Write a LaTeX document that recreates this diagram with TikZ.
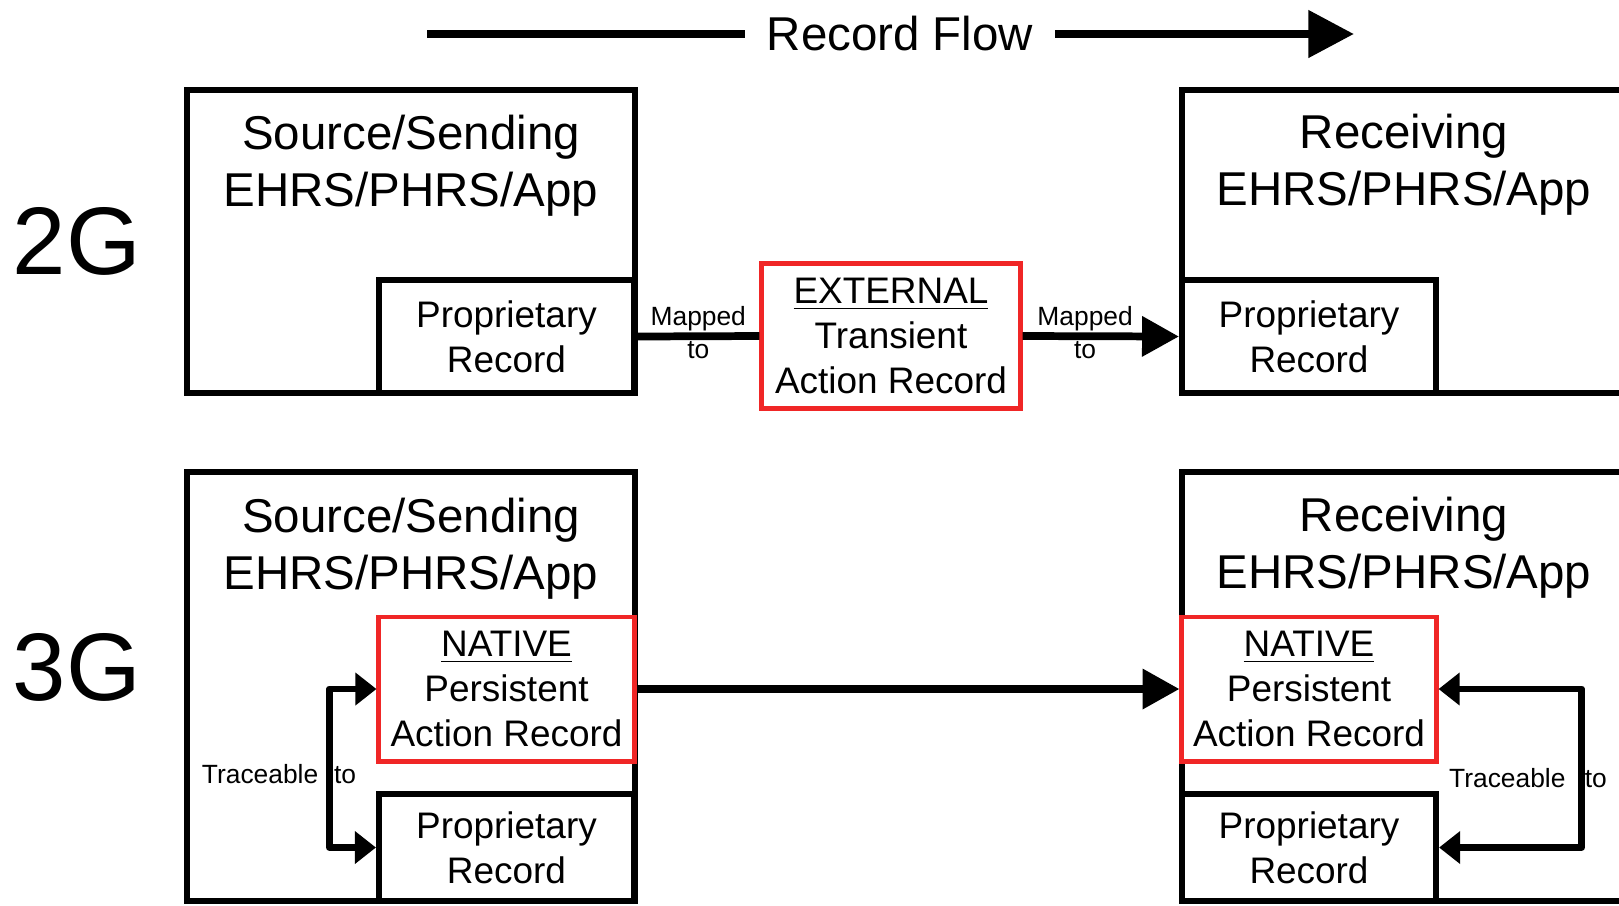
\documentclass[tikz,border=0pt]{standalone}
\usepackage{fontspec}
\setmainfont{Liberation Sans}
\usepackage{xcolor}
\usetikzlibrary{arrows.meta,shapes,positioning}

\definecolor{recred}{RGB}{240,38,38}

\tikzset{
    sysbox/.style={draw, line width=1.8pt, minimum width=4.48cm},
    recbox/.style={draw, fill=white, line width=1.7pt, align=center,
        font=\fontsize{10.5}{12.8}\selectfont, inner sep=0pt},
    actbox/.style={recbox, draw=recred, line width=1.4pt},
    titletext/.style={align=center, font=\fontsize{13.5}{16.2}\selectfont},
    smalltext/.style={align=center, font=\fontsize{7.5}{9.4}\selectfont, inner sep=0pt},
    gentext/.style={font=\fontsize{27.3}{30}\selectfont},
}

\begin{document}
\begin{tikzpicture}[x=0.01cm, y=-0.01cm]
        \clip (0,0) rectangle (1619,905);

        % record flow
        \node[titletext, inner xsep=6pt] (flow) at (900,34) {Record Flow};
        \coordinate (flowStart) at (427,34);
        \coordinate (flowEnd) at (1354,34);
        \draw[line width=2.5pt] (flowStart) -- (flow);
        \draw[-{Triangle[length=13pt,width=13pt]}, line width=2.5pt] (flow) -- (flowEnd);

        \node[gentext] (gen2) at (77,241) {2G};
        \node[gentext] (gen3) at (77,667) {3G};

        % 2G
        \node[sysbox, minimum height=3.03cm] (srcTop) at (411,241.5) {};
        \node[titletext] (srcTopTitle) at (411,166) {Source/Sending\\EHRS/PHRS/App};
        \node[recbox, minimum width=2.55cm, minimum height=1.13cm] (propSrcTop) at (506.5,336.5) {Proprietary\\Record};

        \node[actbox, minimum width=2.58cm, minimum height=1.45cm] (extRec) at (891,336) {\underline{EXTERNAL}\\Transient\\Action Record};

        \node[sysbox, minimum height=3.03cm] (rcvTop) at (1406,241.5) {};
        \node[titletext] (rcvTopTitle) at (1404,165) {Receiving\\EHRS/PHRS/App};
        \node[recbox, minimum width=2.54cm, minimum height=1.13cm] (propRcvTop) at (1309,336.5) {Proprietary\\Record};

        \draw[line width=2.2pt] (propSrcTop.east) -- (extRec.west) node[smalltext, midway, yshift=1pt] {Mapped\\to};
        \draw[-{Triangle[length=10.5pt,width=11pt]}, line width=2.2pt] (extRec.east) -- (propRcvTop.west) node[smalltext, pos=0.4, yshift=1pt] {Mapped\\to};

        % 3G
        \node[sysbox, minimum height=4.29cm] (srcBot) at (411,686.5) {};
        \node[titletext] (srcBotTitle) at (411,549) {Source/Sending\\EHRS/PHRS/App};
        \node[actbox, minimum width=2.55cm, minimum height=1.44cm] (nativeSrc) at (506.5,689) {\underline{NATIVE}\\Persistent\\Action Record};
        \node[recbox, minimum width=2.55cm, minimum height=1.07cm] (propSrcBot) at (506.5,847.5) {Proprietary\\Record};

        \node[sysbox, minimum height=4.29cm] (rcvBot) at (1406,686.5) {};
        \node[titletext] (rcvBotTitle) at (1404,548) {Receiving\\EHRS/PHRS/App};
        \node[actbox, minimum width=2.54cm, minimum height=1.44cm] (nativeRcv) at (1309,689) {\underline{NATIVE}\\Persistent\\Action Record};
        \node[recbox, minimum width=2.54cm, minimum height=1.07cm] (propRcvBot) at (1309,847.5) {Proprietary\\Record};

        \draw[-{Triangle[length=10.5pt,width=11pt]}, line width=2.2pt] (nativeSrc.east) -- (nativeRcv.west);

        \draw[{Triangle[length=6pt,width=9pt]}-{Triangle[length=6pt,width=9pt]}, line width=1.9pt, line join=round] (nativeSrc.west) -- ++(-47,0) |- (propSrcBot.west);
        \node[smalltext] (traceSrc) at (279,774) {Traceable\hspace{4.5pt}to};

        \draw[{Triangle[length=6pt,width=9pt]}-{Triangle[length=6pt,width=9pt]}, line width=1.9pt, line join=round] (nativeRcv.east) -- ++(143,0) |- (propRcvBot.east);
        \node[smalltext] (traceRcv) at (1528,778) {Traceable\hspace{5.5pt}to};

    \end{tikzpicture}
\end{document}
